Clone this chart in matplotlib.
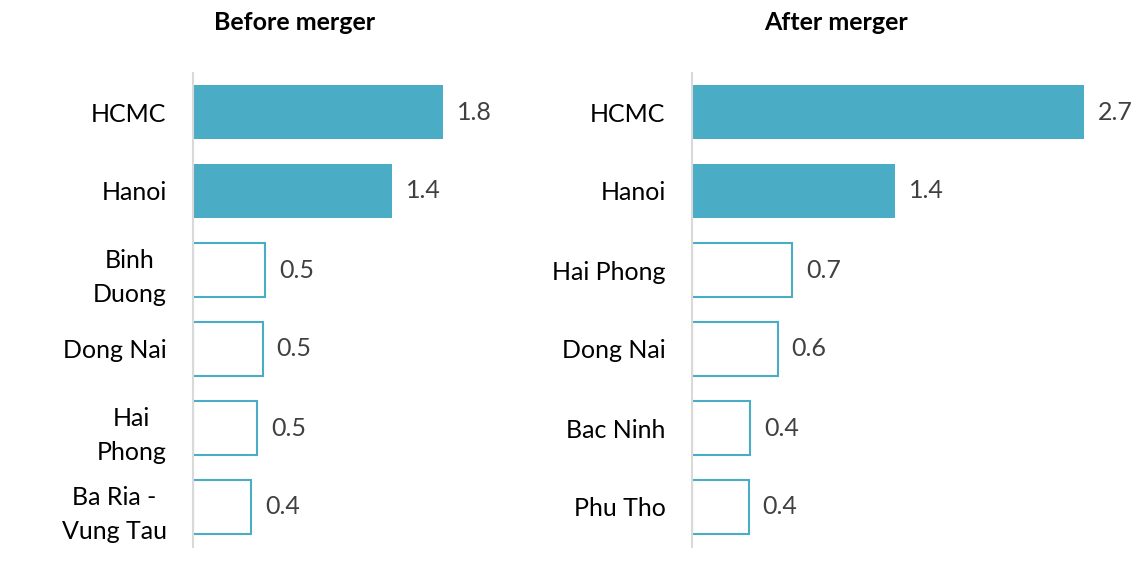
import matplotlib
matplotlib.use("Agg")
import matplotlib.pyplot as plt

# data (mln people)
before_cities = ["HCMC", "Hanoi", "Binh\nDuong", "Dong Nai", "Hai\nPhong", "Ba Ria -\nVung Tau"]
before_values = [1.8, 1.43, 0.52, 0.50, 0.46, 0.42]
after_cities = ["HCMC", "Hanoi", "Hai Phong", "Dong Nai", "Bac Ninh", "Phu Tho"]
after_values = [2.7, 1.40, 0.69, 0.59, 0.40, 0.39]
n_filled = 2  # top two bars are solid

BLUE = "#4BACC6"
AXIS_GREY = "#D9D9D9"
LABEL_GREY = "#404040"

plt.rcParams["font.family"] = ["Lato", "DejaVu Sans"]

W, H = 1141, 570
fig = plt.figure(figsize=(W / 100, H / 100), dpi=100)


def panel(left_px, width_px, scale, cities, values, title, title_x):
    ax = fig.add_axes([left_px / W, 1 - 546.5 / H, width_px / W, 474 / H])
    y = list(range(len(cities)))
    for i, (yy, v) in enumerate(zip(y, values)):
        if i < n_filled:
            ax.barh(yy, v, height=0.68, color=BLUE, edgecolor="none")
        else:
            ax.barh(yy, v, height=0.68, facecolor="white", edgecolor=BLUE, lw=1.5)
        ax.annotate(f"{v:.1f}", (v, yy), xytext=(10, 0), textcoords="offset points",
                    ha="left", va="center", fontsize=18, color=LABEL_GREY)
    ax.set_ylim(len(cities) - 0.5, -0.5)
    ax.set_xlim(0, width_px / scale)
    ax.set_yticks(y)
    ax.set_yticklabels(cities, fontsize=18, color="black", multialignment="center",
                       linespacing=1.6)
    ax.tick_params(axis="y", length=0, pad=19)
    ax.set_xticks([])
    for s in ("top", "right", "bottom"):
        ax.spines[s].set_visible(False)
    ax.spines["left"].set_color(AXIS_GREY)
    ax.spines["left"].set_linewidth(1.5)
    ax.spines["left"].set_zorder(5)
    fig.text(title_x / W, 1 - 22 / H, title, ha="center", va="center",
             fontsize=18, fontweight="bold")
    return ax


panel(193, 320, 139, before_cities, before_values, "Before merger", 295)
panel(692, 430, 145, after_cities, after_values, "After merger", 836)

fig.savefig("out.png", dpi=100, facecolor="white")
